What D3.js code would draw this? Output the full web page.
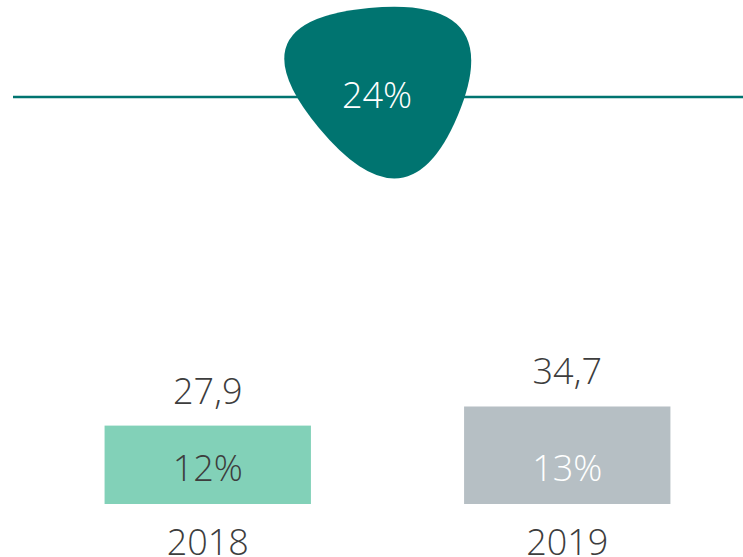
<!DOCTYPE html>
<html>
<head>
<meta charset="utf-8">
<script src="https://cdn.jsdelivr.net/npm/d3@7"></script>
<style>
  body { margin: 0; background: #fff; }
  svg { display: block; }
</style>
</head>
<body>
<div id="chart"></div>
<script>
// values
var years = ['2018', '2019'];
var totals = [27.9, 34.7];
var shares = ['12%', '13%'];
var growth = '24%';

var w = 743;
var h = 557;

var colors = ['#82d1b8', '#b6bfc4'];
var innerText = ['#3d3d3d', '#ffffff'];
var teal = '#007470';
var ink = '#3d3d3d';
var font = '"Open Sans", sans-serif';

var svg = d3.select('#chart')
  .append('svg')
    .attr('width', w)
    .attr('height', h);

var x = d3.scaleBand()
  .domain(years)
  .range([28, 747])
  .paddingInner(0.426)
  .paddingOuter(0.213);

var y = d3.scaleLinear()
  .domain([0, 40])
  .range([504, 391.6]);

// horizontal rule behind the growth badge
svg.append('line')
  .attr('x1', 13)
  .attr('x2', w)
  .attr('y1', 97)
  .attr('y2', 97)
  .attr('stroke', teal)
  .attr('stroke-width', 2.5);

// rounded triangle: edge midpoints relative to badge centre, corners smoothed
function roundedTriangle (cx, cy) {
  var mids = [[-8, -86], [81, 21], [-58, 34]]; // top, right, left edge midpoints
  var top = mids[0], right = mids[1], left = mids[2];
  var verts = [
    [top[0] + left[0] - right[0], top[1] + left[1] - right[1]],
    [top[0] + right[0] - left[0], top[1] + right[1] - left[1]],
    [left[0] + right[0] - top[0], left[1] + right[1] - top[1]]
  ];
  var edgeMids = [top, right, left];
  var p = d3.path();
  p.moveTo(cx + edgeMids[0][0], cy + edgeMids[0][1]);
  for (var i = 0; i < 3; i++) {
    var v = verts[(i + 1) % 3];
    var m = edgeMids[(i + 1) % 3];
    p.quadraticCurveTo(cx + v[0], cy + v[1], cx + m[0], cy + m[1]);
  }
  p.closePath();
  return p.toString();
}

var badge = svg.append('g');

badge.append('path')
  .attr('d', roundedTriangle(377, 94))
  .attr('fill', teal);

badge.append('text')
  .attr('x', 377)
  .attr('y', 108)
  .attr('text-anchor', 'middle')
  .attr('font-family', font)
  .attr('font-weight', 300)
  .attr('font-size', 36)
  .attr('fill', '#fff')
  .text(growth);

var bars = svg.selectAll('.bar')
  .data(years)
  .enter()
    .append('g')
    .attr('class', 'bar');

bars.append('rect')
  .attr('x', d => x(d))
  .attr('width', x.bandwidth())
  .attr('y', (d, i) => y(totals[i]))
  .attr('height', (d, i) => y(0) - y(totals[i]))
  .attr('fill', (d, i) => colors[i]);

// value above the bar
bars.append('text')
  .attr('x', d => x(d) + x.bandwidth() / 2)
  .attr('y', (d, i) => y(totals[i]) - 22)
  .attr('text-anchor', 'middle')
  .attr('font-family', font)
  .attr('font-weight', 300)
  .attr('font-size', 36)
  .attr('fill', ink)
  .text((d, i) => String(totals[i]).replace('.', ','));

// share inside the bar
bars.append('text')
  .attr('x', d => x(d) + x.bandwidth() / 2)
  .attr('y', y(0) - 23)
  .attr('text-anchor', 'middle')
  .attr('font-family', font)
  .attr('font-weight', 300)
  .attr('font-size', 36)
  .attr('fill', (d, i) => innerText[i])
  .text((d, i) => shares[i]);

// year under the bar
bars.append('text')
  .attr('x', d => x(d) + x.bandwidth() / 2)
  .attr('y', y(0) + 51)
  .attr('text-anchor', 'middle')
  .attr('font-family', font)
  .attr('font-weight', 300)
  .attr('font-size', 36)
  .attr('fill', ink)
  .text(d => d);
</script>
</body>
</html>
